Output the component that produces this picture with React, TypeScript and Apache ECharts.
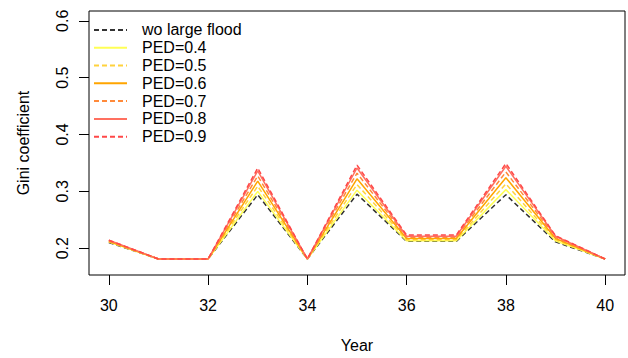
import React, { useEffect, useRef } from "react";
import * as echarts from "echarts";

const years = [30, 31, 32, 33, 34, 35, 36, 37, 38, 39, 40];
const woLargeFlood = [0.210, 0.181, 0.181, 0.294, 0.181, 0.295, 0.212, 0.212, 0.294, 0.211, 0.181];
const ped04 = [0.211, 0.181, 0.181, 0.300, 0.181, 0.302, 0.213, 0.213, 0.303, 0.213, 0.181];
const ped05 = [0.211, 0.181, 0.181, 0.309, 0.181, 0.312, 0.215, 0.215, 0.313, 0.215, 0.181];
const ped06 = [0.212, 0.181, 0.181, 0.318, 0.181, 0.322, 0.217, 0.217, 0.324, 0.217, 0.181];
const ped07 = [0.213, 0.181, 0.181, 0.327, 0.181, 0.332, 0.219, 0.219, 0.334, 0.219, 0.181];
const ped08 = [0.214, 0.181, 0.181, 0.336, 0.181, 0.341, 0.221, 0.221, 0.344, 0.221, 0.181];
const ped09 = [0.214, 0.181, 0.181, 0.341, 0.181, 0.346, 0.223, 0.223, 0.349, 0.222, 0.181];

const xTicks = [30, 32, 34, 36, 38, 40];
const yTicks = [0.2, 0.3, 0.4, 0.5, 0.6];

const seriesDefs = [
  { name: "wo large flood", data: woLargeFlood, color: "#333333", dashed: true },
  { name: "PED=0.4", data: ped04, color: "#FFFF55", dashed: false },
  { name: "PED=0.5", data: ped05, color: "#FFD23C", dashed: true },
  { name: "PED=0.6", data: ped06, color: "#FFA500", dashed: false },
  { name: "PED=0.7", data: ped07, color: "#FF8A3A", dashed: true },
  { name: "PED=0.8", data: ped08, color: "#FF7060", dashed: false },
  { name: "PED=0.9", data: ped09, color: "#FF4848", dashed: true },
];

const FONT = "'Liberation Sans', Arial, sans-serif";

export default function App() {
  const ref = useRef<HTMLDivElement>(null);
  useEffect(() => {
    if (!ref.current) return;
    const chart = echarts.init(ref.current, null, { renderer: "svg" });
    chart.setOption({
      animation: false,
      backgroundColor: "#ffffff",
      textStyle: { fontFamily: FONT },
      grid: {
        left: 89,
        right: 3,
        top: 11,
        bottom: 82,
        show: true,
        borderColor: "#000",
        borderWidth: 1,
        backgroundColor: "transparent",
      },
      legend: {
        orient: "vertical",
        left: 93,
        top: 21,
        padding: 0,
        itemWidth: 33,
        itemHeight: 12,
        itemGap: 0,
        itemStyle: { opacity: 0 },
        textStyle: {
          fontFamily: FONT,
          fontSize: 16,
          color: "#000",
          lineHeight: 17.8,
          padding: [0, 0, 0, 10],
        },
        data: seriesDefs.map((s) => s.name),
      },
      xAxis: {
        type: "value",
        min: 29.6,
        max: 40.4,
        name: "Year",
        nameLocation: "middle",
        nameGap: 62,
        nameTextStyle: { fontFamily: FONT, fontSize: 16, color: "#000" },
        axisLine: { show: false },
        splitLine: { show: false },
        axisTick: {
          show: true,
          length: 10,
          customValues: xTicks,
          lineStyle: { color: "#000", width: 1 },
        },
        axisLabel: {
          customValues: xTicks,
          fontFamily: FONT,
          fontSize: 16,
          color: "#000",
          margin: 22,
        },
      },
      yAxis: {
        type: "value",
        min: 0.1528,
        max: 0.6172,
        name: "Gini coefficient",
        nameLocation: "middle",
        nameGap: 58,
        nameTextStyle: { fontFamily: FONT, fontSize: 16, color: "#000" },
        axisLine: { show: false },
        splitLine: { show: false },
        axisTick: {
          show: true,
          length: 10,
          customValues: yTicks,
          lineStyle: { color: "#000", width: 1 },
        },
        axisLabel: {
          customValues: yTicks,
          rotate: 90,
          fontFamily: FONT,
          fontSize: 16,
          color: "#000",
          margin: 19,
          formatter: (v: number) => v.toFixed(1),
        },
      },
      series: seriesDefs.map((s) => ({
        name: s.name,
        type: "line",
        data: years.map((y, i) => [y, s.data[i]]),
        showSymbol: false,
        symbol: "none",
        color: s.color,
        lineStyle: {
          color: s.color,
          width: 1.5,
          type: s.dashed ? [5, 3] : "solid",
        },
      })),
    });
    return () => chart.dispose();
  }, []);
  return (
    <div
      ref={ref}
      style={{ position: "fixed", left: 0, top: 0, width: 628, height: 358 }}
    />
  );
}
